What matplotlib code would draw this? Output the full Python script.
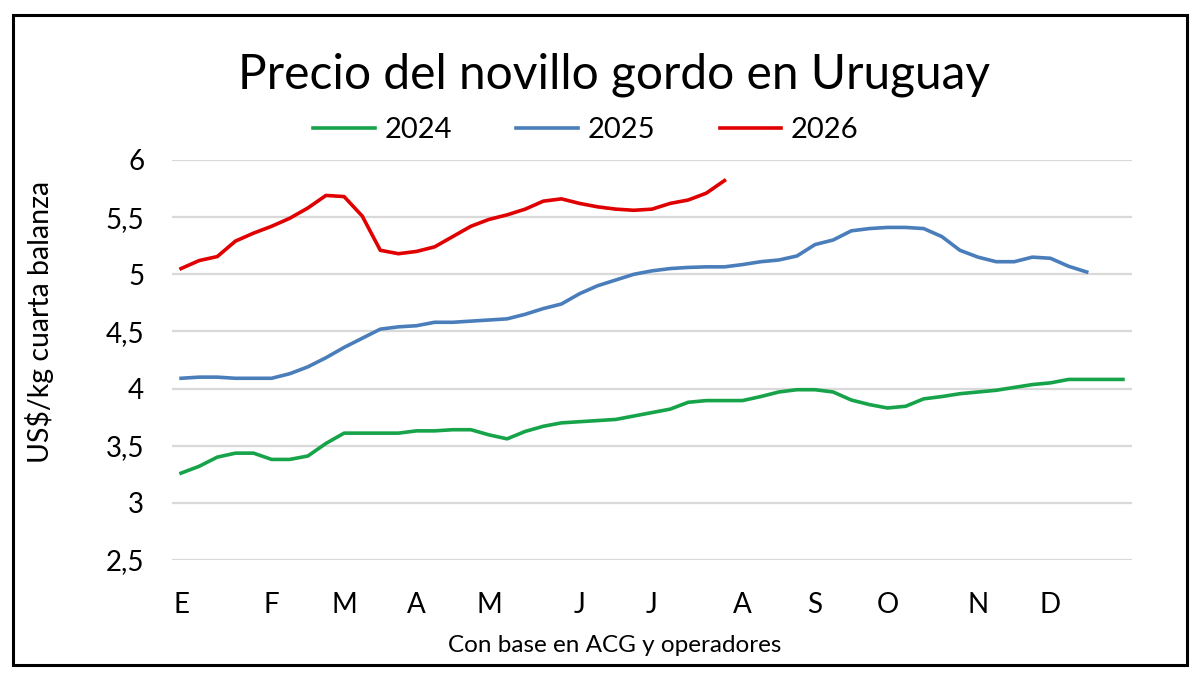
import matplotlib
matplotlib.use("Agg")
import matplotlib.pyplot as plt
from matplotlib.patches import Rectangle

# weekly values, US$/kg cuarta balanza
p2024 = [3.26, 3.32, 3.40, 3.435, 3.435, 3.38, 3.38, 3.41, 3.52, 3.61,
         3.61, 3.61, 3.61, 3.63, 3.63, 3.64, 3.64, 3.595, 3.56, 3.625,
         3.67, 3.70, 3.71, 3.72, 3.73, 3.76, 3.79, 3.82, 3.88, 3.895,
         3.895, 3.895, 3.93, 3.97, 3.99, 3.99, 3.97, 3.90, 3.86, 3.83,
         3.845, 3.91, 3.93, 3.955, 3.97, 3.985, 4.01, 4.035, 4.05, 4.08,
         4.08, 4.08, 4.08]
p2025 = [4.09, 4.10, 4.10, 4.09, 4.09, 4.09, 4.13, 4.19, 4.27, 4.36,
         4.44, 4.52, 4.54, 4.55, 4.58, 4.58, 4.59, 4.60, 4.61, 4.65,
         4.70, 4.74, 4.83, 4.90, 4.95, 5.00, 5.03, 5.05, 5.06, 5.065,
         5.065, 5.085, 5.11, 5.125, 5.16, 5.26, 5.30, 5.38, 5.40, 5.41,
         5.41, 5.40, 5.33, 5.21, 5.15, 5.11, 5.11, 5.15, 5.14, 5.07,
         5.02]
p2026 = [5.05, 5.12, 5.155, 5.29, 5.36, 5.42, 5.49, 5.58, 5.69, 5.68,
         5.51, 5.21, 5.18, 5.20, 5.24, 5.33, 5.42, 5.48, 5.52, 5.57,
         5.64, 5.66, 5.62, 5.59, 5.57, 5.56, 5.57, 5.62, 5.65, 5.71,
         5.82]

month_labels = ["E", "F", "M", "A", "M", "J", "J", "A", "S", "O", "N", "D"]
month_weeks = [0, 5, 9, 13, 17, 22, 26, 31, 35, 39, 44, 48]
n_weeks = 53

plt.rcParams['font.family'] = ['Lato', 'DejaVu Sans']

fig = plt.figure(figsize=(12, 6.75), dpi=100)
ax = fig.add_axes([172/1200, 1 - 560/675, 960/1200, 400/675])

ax.plot(range(len(p2024)), p2024, color='#17a34a', lw=2.6, label='2024', solid_joinstyle='round')
ax.plot(range(len(p2025)), p2025, color='#4a7ebb', lw=2.6, label='2025', solid_joinstyle='round')
ax.plot(range(len(p2026)), p2026, color='#e00000', lw=2.6, label='2026', solid_joinstyle='round')

ax.set_xlim(-0.5, n_weeks - 0.5)
ax.set_ylim(2.5, 6)
ax.set_yticks([2.5, 3, 3.5, 4, 4.5, 5, 5.5, 6])
ax.set_yticklabels(["2,5", "3", "3,5", "4", "4,5", "5", "5,5", "6"])
ax.set_xticks(month_weeks)
ax.set_xticklabels(month_labels)
ax.tick_params(axis='y', length=0, pad=20, labelsize=20)
ax.tick_params(axis='x', length=0, pad=23, labelsize=20)
ax.grid(axis='y', color='#d9d9d9', lw=1.6)
ax.set_axisbelow(True)
for s in ax.spines.values():
    s.set_visible(False)

fig.text(40/1200, 1 - 322/675, "US$/kg cuarta balanza", rotation=90, ha='center', va='center', fontsize=20.5)
fig.text(615/1200, 1 - 645/675, "Con base en ACG y operadores", ha='center', va='center', fontsize=17.5)

fig.text(0.512, 1 - 75/675, "Precio del novillo gordo en Uruguay", ha='center', va='center', fontsize=34.5)
fig.legend(loc='center', bbox_to_anchor=(586/1200, 1 - 130/675), ncol=3, frameon=False,
           fontsize=21, handlelength=2.1, handletextpad=0.35, columnspacing=2.2)

fig.add_artist(Rectangle((13/1200, 1 - 665/675), 1174/1200, 650/675, transform=fig.transFigure,
                         fill=False, ec='black', lw=2.2))

fig.savefig("out.png", dpi=100)
